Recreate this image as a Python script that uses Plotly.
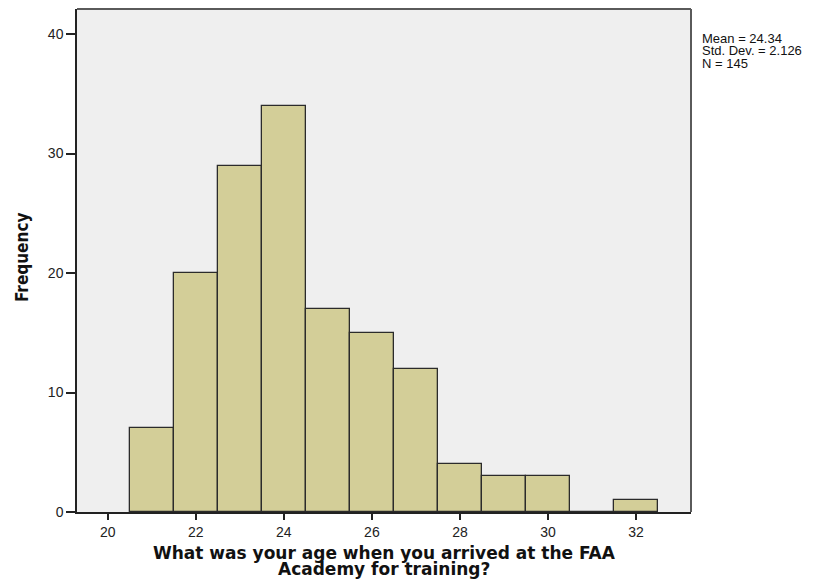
import plotly.graph_objects as go

ages = [21, 22, 23, 24, 25, 26, 27, 28, 29, 30, 31, 32]
frequency = [7, 20, 29, 34, 17, 15, 12, 4, 3, 3, 0, 1]
x_ticks = [20, 22, 24, 26, 28, 30, 32]
y_ticks = [0, 10, 20, 30, 40]
stats_lines = ["Mean = 24.34", "Std. Dev. = 2.126", "N = 145"]
x_title_lines = ["What was your age when you arrived at the FAA", "Academy for training?"]
y_title = "Frequency"

# The page adds an 8px body margin, so the figure is 8px smaller and shifted.
W, H = 819, 572
L, R, T, B = 69, 136, 1, 68
plot_w = W - L - R
plot_h = H - T - B


def px(xpix):
    return (xpix - L) / plot_w


def py(ypix):
    return (H - B - ypix) / plot_h


fig = go.Figure()
fig.add_trace(go.Bar(
    x=ages, y=frequency, width=1,
    marker=dict(color="#D3CE98", line=dict(color="#2b2b2b", width=1.3)),
    showlegend=False,
))

# top/right frame in gray
fig.add_shape(type="line", xref="paper", yref="paper", x0=0, x1=1, y0=1, y1=1,
              line=dict(color="#5a5a5a", width=2))
fig.add_shape(type="line", xref="paper", yref="paper", x0=1, x1=1, y0=0, y1=1,
              line=dict(color="#5a5a5a", width=2))

for i, line in enumerate(stats_lines):
    fig.add_annotation(
        xref="paper", yref="paper", x=px(692), y=py(31 + 12 * i),
        xanchor="left", yanchor="middle", text=line, showarrow=False, align="left",
        font=dict(family="Liberation Sans, Arial", size=13, color="#111111"),
    )

for i, line in enumerate(x_title_lines):
    fig.add_annotation(
        xref="paper", yref="paper", x=0.5, y=py(545 + 16 * i),
        xanchor="center", yanchor="middle", showarrow=False,
        text="<b>" + line + "</b>",
        font=dict(family="DejaVu Sans", size=17, color="#111111"),
    )

fig.add_annotation(
    xref="paper", yref="paper", x=px(14), y=py(250),
    xanchor="center", yanchor="middle", showarrow=False, textangle=-90,
    text="<b>" + y_title + "</b>",
    font=dict(family="Liberation Sans Narrow, DejaVu Sans Condensed", size=17, color="#111111"),
)

fig.update_layout(
    width=W, height=H,
    margin=dict(l=L, r=R, t=T, b=B),
    paper_bgcolor="white", plot_bgcolor="#EFEFEF",
    bargap=0,
    xaxis=dict(
        range=[19.3, 33.25], tickvals=x_ticks, ticks="outside", ticklen=6,
        tickcolor="#222", tickwidth=1.5, showgrid=False, zeroline=False,
        showline=True, linecolor="#222", linewidth=1.5, automargin=False,
        tickfont=dict(family="Liberation Sans, Arial", size=14, color="#222"),
    ),
    yaxis=dict(
        range=[0, 42.1], tickvals=y_ticks, ticks="outside", ticklen=9,
        tickcolor="#222", tickwidth=1.5, showgrid=False, zeroline=False,
        showline=True, linecolor="#222", linewidth=1.5, automargin=False,
        tickfont=dict(family="Liberation Sans, Arial", size=14, color="#222"),
    ),
)
fig.write_html("out.html")
